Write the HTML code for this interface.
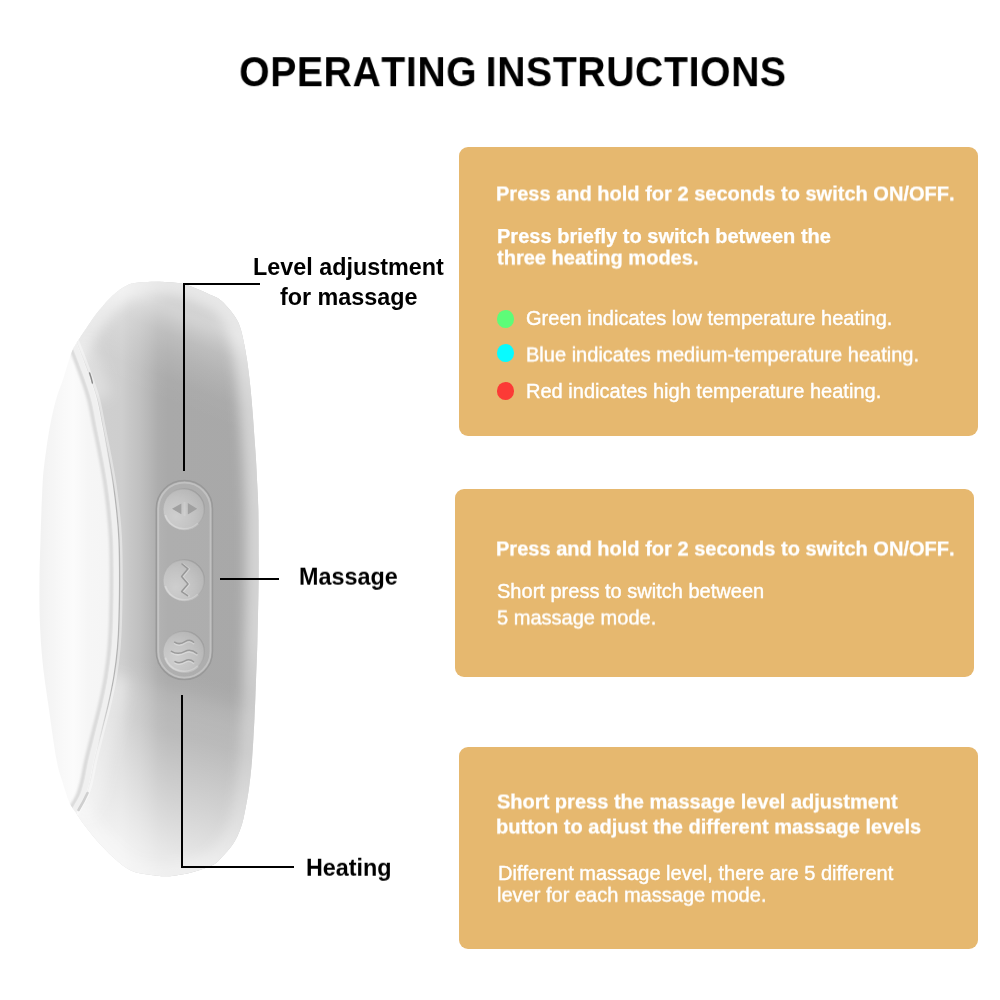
<!DOCTYPE html>
<html lang="en">
<head>
<meta charset="utf-8">
<title>Operating Instructions</title>
<style>
*{margin:0;padding:0;box-sizing:border-box}
html,body{width:1000px;height:1000px;background:#fff;overflow:hidden}
body{position:relative;font-family:"Liberation Sans",Arial,Helvetica,sans-serif;color:#000}
.abs{position:absolute;white-space:nowrap;line-height:1;will-change:transform;font-kerning:none;transform-origin:0 0}
h1{position:absolute;left:0;top:48px;width:1000px;text-align:center;font-size:42.5px;font-weight:700;line-height:50px;white-space:nowrap;letter-spacing:0.7px;word-spacing:-3.4px;font-kerning:none;will-change:transform;transform:translate(12.9px,-0.8px) scaleX(0.92) rotate(0.0001deg);transform-origin:50% 50%}
.box{position:absolute;background:#e6b86f;border-radius:9px}
.b{font-weight:700;color:#fff;font-size:20.05px;-webkit-text-stroke:0.25px #fff}
.r{font-weight:400;color:#fff;font-size:20.05px;-webkit-text-stroke:0.4px #fff}
.lab{font-weight:700;color:#000;font-size:23.35px}
.dot{position:absolute;width:17.8px;height:18px;border-radius:50%}
.ln{position:absolute;background:#000}
#device{position:absolute;left:0;top:0;width:1000px;height:1000px}
</style>
</head>
<body>
<h1 id="title">OPERATING INSTRUCTIONS</h1>

<svg id="device" viewBox="0 0 1000 1000" width="1000" height="1000">
<defs>
<linearGradient id="gH" gradientUnits="userSpaceOnUse" x1="75" y1="0" x2="260" y2="0">
<stop offset="0.000" stop-color="#d0d0d0"/>
<stop offset="0.162" stop-color="#cfcfcf"/>
<stop offset="0.254" stop-color="#cecece"/>
<stop offset="0.297" stop-color="#c7c7c7"/>
<stop offset="0.351" stop-color="#c0c0c0"/>
<stop offset="0.405" stop-color="#b6b6b6"/>
<stop offset="0.449" stop-color="#adadad"/>
<stop offset="0.503" stop-color="#a9a9a9"/>
<stop offset="1.000" stop-color="#a8a8a8"/>
</linearGradient>
<linearGradient id="gV" gradientUnits="userSpaceOnUse" x1="160" y1="282" x2="91.03" y2="454.41">
<stop offset="0.000" stop-color="#fff" stop-opacity="0.460"/>
<stop offset="0.060" stop-color="#fff" stop-opacity="0.470"/>
<stop offset="0.110" stop-color="#fff" stop-opacity="0.490"/>
<stop offset="0.140" stop-color="#fff" stop-opacity="0.450"/>
<stop offset="0.190" stop-color="#fff" stop-opacity="0.340"/>
<stop offset="0.240" stop-color="#fff" stop-opacity="0.240"/>
<stop offset="0.340" stop-color="#fff" stop-opacity="0.130"/>
<stop offset="0.465" stop-color="#fff" stop-opacity="0.030"/>
<stop offset="0.590" stop-color="#fff" stop-opacity="0.000"/>
<stop offset="1.000" stop-color="#fff" stop-opacity="0.000"/>
</linearGradient>
<linearGradient id="gD" gradientUnits="userSpaceOnUse" x1="216" y1="676" x2="156" y2="888">
<stop offset="0.000" stop-color="#fff" stop-opacity="0.000"/>
<stop offset="0.040" stop-color="#fff" stop-opacity="0.010"/>
<stop offset="0.090" stop-color="#fff" stop-opacity="0.050"/>
<stop offset="0.140" stop-color="#fff" stop-opacity="0.120"/>
<stop offset="0.200" stop-color="#fff" stop-opacity="0.170"/>
<stop offset="0.300" stop-color="#fff" stop-opacity="0.210"/>
<stop offset="0.450" stop-color="#fff" stop-opacity="0.350"/>
<stop offset="0.600" stop-color="#fff" stop-opacity="0.490"/>
<stop offset="0.840" stop-color="#fff" stop-opacity="0.730"/>
<stop offset="1.000" stop-color="#fff" stop-opacity="0.760"/>
</linearGradient>
<linearGradient id="gGlow" gradientUnits="userSpaceOnUse" x1="0" y1="282" x2="0" y2="876">
<stop offset="0.000" stop-color="#fff" stop-opacity="0.500"/>
<stop offset="0.600" stop-color="#fff" stop-opacity="0.500"/>
<stop offset="0.780" stop-color="#fff" stop-opacity="0.300"/>
<stop offset="1.000" stop-color="#fff" stop-opacity="0.300"/>
</linearGradient>
<linearGradient id="gRimL" gradientUnits="userSpaceOnUse" x1="0" y1="430" x2="0" y2="750"><stop offset="0" stop-color="#b4b4b4" stop-opacity="0"/><stop offset="0.2" stop-color="#b4b4b4" stop-opacity="1"/><stop offset="0.8" stop-color="#b4b4b4" stop-opacity="1"/><stop offset="1" stop-color="#b4b4b4" stop-opacity="0"/></linearGradient>
<linearGradient id="gF" gradientUnits="userSpaceOnUse" x1="40" y1="0" x2="120" y2="0">
<stop offset="0" stop-color="#f1f1f1"/>
<stop offset="0.10" stop-color="#f4f4f4"/>
<stop offset="0.30" stop-color="#f9f9f9"/>
<stop offset="0.42" stop-color="#fbfbfb"/>
<stop offset="0.60" stop-color="#f6f6f6"/>
<stop offset="1" stop-color="#f4f4f4"/>
</linearGradient>
<radialGradient id="gBtn" cx="0.3" cy="0.68" r="0.85">
<stop offset="0" stop-color="#fff" stop-opacity="0.40"/>
<stop offset="0.5" stop-color="#fff" stop-opacity="0.26"/>
<stop offset="1" stop-color="#fff" stop-opacity="0.06"/>
</radialGradient>
<linearGradient id="gRing" x1="0.1" y1="0.9" x2="0.9" y2="0.1">
<stop offset="0" stop-color="#fff" stop-opacity="0.25"/>
<stop offset="0.45" stop-color="#999" stop-opacity="0"/>
<stop offset="1" stop-color="#8c8c8c" stop-opacity="0.55"/>
</linearGradient>
<clipPath id="cS"><path d="M141.0,282.3C147.3,281.7 157.5,281.6 165.0,282.0C172.5,282.4 178.2,282.4 186.0,284.7C193.8,286.9 206.2,292.9 212.0,295.5C217.8,298.1 218.0,298.1 221.0,300.5C224.0,302.9 227.3,306.8 230.0,310.0C232.7,313.2 235.2,316.7 237.0,320.0C238.8,323.3 239.8,325.8 241.0,330.0C242.2,334.2 243.4,340.0 244.4,345.0C245.4,350.0 246.1,354.2 247.0,360.0C247.9,365.8 248.8,373.3 249.6,380.0C250.4,386.7 251.0,393.3 251.6,400.0C252.2,406.7 252.7,413.3 253.2,420.0C253.7,426.7 254.1,433.3 254.6,440.0C255.1,446.7 255.6,453.3 256.0,460.0C256.4,466.7 256.7,473.3 257.0,480.0C257.3,486.7 257.8,493.3 258.0,500.0C258.2,506.7 258.4,506.7 258.5,520.0C258.6,533.3 258.8,560.0 258.6,580.0C258.4,600.0 257.8,623.3 257.4,640.0C257.0,656.7 256.5,666.7 256.0,680.0C255.5,693.3 255.1,706.7 254.4,720.0C253.7,733.3 252.9,748.7 252.0,760.0C251.1,771.3 250.3,778.7 249.0,788.0C247.7,797.3 245.5,809.0 244.0,816.0C242.5,823.0 241.8,825.3 240.0,830.0C238.2,834.7 236.2,839.3 233.0,844.0C229.8,848.7 224.4,854.5 221.0,858.0C217.6,861.5 217.3,862.7 212.6,865.0C207.9,867.3 200.1,870.1 193.0,872.0C185.9,873.9 177.3,875.7 170.0,876.2C162.7,876.7 155.5,875.7 149.0,874.8C142.5,873.9 136.6,873.4 130.8,870.6C125.0,867.8 119.1,862.4 114.0,858.0C108.9,853.6 104.7,849.1 100.0,844.0C95.3,838.9 90.0,832.3 86.0,827.2C82.0,822.1 79.0,817.4 76.2,813.2C73.4,809.0 71.5,807.4 69.2,802.0C66.9,796.6 64.3,788.0 62.2,781.0C60.1,774.0 58.9,772.8 56.6,760.0C54.3,747.2 50.5,720.3 48.2,704.0C45.9,687.7 44.0,676.0 42.6,662.0C41.2,648.0 40.3,633.7 39.8,620.0C39.3,606.3 39.4,593.3 39.5,580.0C39.6,566.7 40.0,556.0 40.5,540.0C41.0,524.0 41.8,498.0 42.6,484.0C43.4,470.0 44.2,465.3 45.4,456.0C46.6,446.7 47.9,437.3 49.6,428.0C51.4,418.7 53.5,408.5 55.9,400.0C58.3,391.5 61.3,384.7 63.8,377.0C66.3,369.3 68.9,359.7 71.0,354.0C73.1,348.3 73.8,347.5 76.6,342.8C79.4,338.1 84.1,331.4 87.8,326.0C91.5,320.6 94.8,315.7 99.0,310.6C103.2,305.5 108.3,299.4 113.0,295.2C117.7,291.0 122.3,287.5 127.0,285.4C131.7,283.2 134.7,282.9 141.0,282.3Z"/></clipPath>
<clipPath id="cB"><path d="M76.6,342.8C78.5,340.0 84.1,331.4 87.8,326.0C91.5,320.6 94.8,315.7 99.0,310.6C103.2,305.5 108.3,299.4 113.0,295.2C117.7,291.0 122.3,287.5 127.0,285.4C131.7,283.2 134.7,282.9 141.0,282.3C147.3,281.7 157.5,281.6 165.0,282.0C172.5,282.4 178.2,282.4 186.0,284.7C193.8,286.9 206.2,292.9 212.0,295.5C217.8,298.1 218.0,298.1 221.0,300.5C224.0,302.9 227.3,306.8 230.0,310.0C232.7,313.2 235.2,316.7 237.0,320.0C238.8,323.3 239.8,325.8 241.0,330.0C242.2,334.2 243.4,340.0 244.4,345.0C245.4,350.0 246.1,354.2 247.0,360.0C247.9,365.8 248.8,373.3 249.6,380.0C250.4,386.7 251.0,393.3 251.6,400.0C252.2,406.7 252.7,413.3 253.2,420.0C253.7,426.7 254.1,433.3 254.6,440.0C255.1,446.7 255.6,453.3 256.0,460.0C256.4,466.7 256.7,473.3 257.0,480.0C257.3,486.7 257.8,493.3 258.0,500.0C258.2,506.7 258.4,506.7 258.5,520.0C258.6,533.3 258.8,560.0 258.6,580.0C258.4,600.0 257.8,623.3 257.4,640.0C257.0,656.7 256.5,666.7 256.0,680.0C255.5,693.3 255.1,706.7 254.4,720.0C253.7,733.3 252.9,748.7 252.0,760.0C251.1,771.3 250.3,778.7 249.0,788.0C247.7,797.3 245.5,809.0 244.0,816.0C242.5,823.0 241.8,825.3 240.0,830.0C238.2,834.7 236.2,839.3 233.0,844.0C229.8,848.7 224.4,854.5 221.0,858.0C217.6,861.5 217.3,862.7 212.6,865.0C207.9,867.3 200.1,870.1 193.0,872.0C185.9,873.9 177.3,875.7 170.0,876.2C162.7,876.7 155.5,875.7 149.0,874.8C142.5,873.9 136.6,873.4 130.8,870.6C125.0,867.8 119.1,862.4 114.0,858.0C108.9,853.6 104.7,849.1 100.0,844.0C95.3,838.9 90.0,832.3 86.0,827.2C82.0,822.1 77.8,815.5 76.2,813.2C76.7,812.3 77.4,810.6 79.0,807.6C80.6,804.6 84.1,799.4 86.0,795.0C87.9,790.6 88.8,786.8 90.2,781.0C91.6,775.2 92.5,768.2 94.4,760.0C96.3,751.8 99.1,741.3 101.4,732.0C103.7,722.7 106.3,713.3 108.4,704.0C110.5,694.7 112.5,685.3 114.0,676.0C115.5,666.7 116.7,657.3 117.5,648.0C118.3,638.7 118.7,631.3 119.0,620.0C119.3,608.7 119.6,593.3 119.6,580.0C119.6,566.7 119.5,551.3 119.0,540.0C118.5,528.7 117.8,521.3 116.8,512.0C115.8,502.7 114.7,493.3 113.3,484.0C111.9,474.7 110.2,465.3 108.4,456.0C106.7,446.7 104.7,437.3 102.8,428.0C100.9,418.7 99.4,408.5 97.2,400.0C95.0,391.5 93.1,386.2 89.8,377.0C86.5,367.8 79.5,349.9 77.5,344.5Z"/></clipPath>
<filter id="b0" x="-20%" y="-20%" width="140%" height="140%"><feGaussianBlur stdDeviation="0.45"/></filter>
<filter id="b1" x="-20%" y="-20%" width="140%" height="140%"><feGaussianBlur stdDeviation="0.6"/></filter>
<filter id="b2" x="-50%" y="-5%" width="200%" height="110%"><feGaussianBlur stdDeviation="1.2"/></filter>
<filter id="b6" x="-30%" y="-15%" width="160%" height="130%"><feGaussianBlur stdDeviation="6"/></filter>
<filter id="b7" x="-150%" y="-30%" width="400%" height="160%"><feGaussianBlur stdDeviation="7"/></filter>
</defs>
<g filter="url(#b1)">
<path d="M76.2,813.2C75.0,811.3 71.5,807.4 69.2,802.0C66.9,796.6 64.3,788.0 62.2,781.0C60.1,774.0 58.9,772.8 56.6,760.0C54.3,747.2 50.5,720.3 48.2,704.0C45.9,687.7 44.0,676.0 42.6,662.0C41.2,648.0 40.3,633.7 39.8,620.0C39.3,606.3 39.4,593.3 39.5,580.0C39.6,566.7 40.0,556.0 40.5,540.0C41.0,524.0 41.8,498.0 42.6,484.0C43.4,470.0 44.2,465.3 45.4,456.0C46.6,446.7 47.9,437.3 49.6,428.0C51.4,418.7 53.5,408.5 55.9,400.0C58.3,391.5 61.3,384.7 63.8,377.0C66.3,369.3 68.9,359.7 71.0,354.0C73.1,348.3 75.7,344.7 76.6,342.8L77.5,344.5C79.5,349.9 86.5,367.8 89.8,377.0C93.1,386.2 95.0,391.5 97.2,400.0C99.4,408.5 100.9,418.7 102.8,428.0C104.7,437.3 106.7,446.7 108.4,456.0C110.2,465.3 111.9,474.7 113.3,484.0C114.7,493.3 115.8,502.7 116.8,512.0C117.8,521.3 118.5,528.7 119.0,540.0C119.5,551.3 119.6,566.7 119.6,580.0C119.6,593.3 119.3,608.7 119.0,620.0C118.7,631.3 118.3,638.7 117.5,648.0C116.7,657.3 115.5,666.7 114.0,676.0C112.5,685.3 110.5,694.7 108.4,704.0C106.3,713.3 103.7,722.7 101.4,732.0C99.1,741.3 96.3,751.8 94.4,760.0C92.5,768.2 91.6,775.2 90.2,781.0C88.8,786.8 87.9,790.6 86.0,795.0C84.1,799.4 80.6,804.6 79.0,807.6C77.4,810.6 76.7,812.3 76.2,813.2Z" fill="url(#gF)"/>
<path d="M76.6,342.8C78.5,340.0 84.1,331.4 87.8,326.0C91.5,320.6 94.8,315.7 99.0,310.6C103.2,305.5 108.3,299.4 113.0,295.2C117.7,291.0 122.3,287.5 127.0,285.4C131.7,283.2 134.7,282.9 141.0,282.3C147.3,281.7 157.5,281.6 165.0,282.0C172.5,282.4 178.2,282.4 186.0,284.7C193.8,286.9 206.2,292.9 212.0,295.5C217.8,298.1 218.0,298.1 221.0,300.5C224.0,302.9 227.3,306.8 230.0,310.0C232.7,313.2 235.2,316.7 237.0,320.0C238.8,323.3 239.8,325.8 241.0,330.0C242.2,334.2 243.4,340.0 244.4,345.0C245.4,350.0 246.1,354.2 247.0,360.0C247.9,365.8 248.8,373.3 249.6,380.0C250.4,386.7 251.0,393.3 251.6,400.0C252.2,406.7 252.7,413.3 253.2,420.0C253.7,426.7 254.1,433.3 254.6,440.0C255.1,446.7 255.6,453.3 256.0,460.0C256.4,466.7 256.7,473.3 257.0,480.0C257.3,486.7 257.8,493.3 258.0,500.0C258.2,506.7 258.4,506.7 258.5,520.0C258.6,533.3 258.8,560.0 258.6,580.0C258.4,600.0 257.8,623.3 257.4,640.0C257.0,656.7 256.5,666.7 256.0,680.0C255.5,693.3 255.1,706.7 254.4,720.0C253.7,733.3 252.9,748.7 252.0,760.0C251.1,771.3 250.3,778.7 249.0,788.0C247.7,797.3 245.5,809.0 244.0,816.0C242.5,823.0 241.8,825.3 240.0,830.0C238.2,834.7 236.2,839.3 233.0,844.0C229.8,848.7 224.4,854.5 221.0,858.0C217.6,861.5 217.3,862.7 212.6,865.0C207.9,867.3 200.1,870.1 193.0,872.0C185.9,873.9 177.3,875.7 170.0,876.2C162.7,876.7 155.5,875.7 149.0,874.8C142.5,873.9 136.6,873.4 130.8,870.6C125.0,867.8 119.1,862.4 114.0,858.0C108.9,853.6 104.7,849.1 100.0,844.0C95.3,838.9 90.0,832.3 86.0,827.2C82.0,822.1 77.8,815.5 76.2,813.2C76.7,812.3 77.4,810.6 79.0,807.6C80.6,804.6 84.1,799.4 86.0,795.0C87.9,790.6 88.8,786.8 90.2,781.0C91.6,775.2 92.5,768.2 94.4,760.0C96.3,751.8 99.1,741.3 101.4,732.0C103.7,722.7 106.3,713.3 108.4,704.0C110.5,694.7 112.5,685.3 114.0,676.0C115.5,666.7 116.7,657.3 117.5,648.0C118.3,638.7 118.7,631.3 119.0,620.0C119.3,608.7 119.6,593.3 119.6,580.0C119.6,566.7 119.5,551.3 119.0,540.0C118.5,528.7 117.8,521.3 116.8,512.0C115.8,502.7 114.7,493.3 113.3,484.0C111.9,474.7 110.2,465.3 108.4,456.0C106.7,446.7 104.7,437.3 102.8,428.0C100.9,418.7 99.4,408.5 97.2,400.0C95.0,391.5 93.1,386.2 89.8,377.0C86.5,367.8 79.5,349.9 77.5,344.5Z" fill="url(#gH)"/>
<path d="M76.6,342.8C78.5,340.0 84.1,331.4 87.8,326.0C91.5,320.6 94.8,315.7 99.0,310.6C103.2,305.5 108.3,299.4 113.0,295.2C117.7,291.0 122.3,287.5 127.0,285.4C131.7,283.2 134.7,282.9 141.0,282.3C147.3,281.7 157.5,281.6 165.0,282.0C172.5,282.4 178.2,282.4 186.0,284.7C193.8,286.9 206.2,292.9 212.0,295.5C217.8,298.1 218.0,298.1 221.0,300.5C224.0,302.9 227.3,306.8 230.0,310.0C232.7,313.2 235.2,316.7 237.0,320.0C238.8,323.3 239.8,325.8 241.0,330.0C242.2,334.2 243.4,340.0 244.4,345.0C245.4,350.0 246.1,354.2 247.0,360.0C247.9,365.8 248.8,373.3 249.6,380.0C250.4,386.7 251.0,393.3 251.6,400.0C252.2,406.7 252.7,413.3 253.2,420.0C253.7,426.7 254.1,433.3 254.6,440.0C255.1,446.7 255.6,453.3 256.0,460.0C256.4,466.7 256.7,473.3 257.0,480.0C257.3,486.7 257.8,493.3 258.0,500.0C258.2,506.7 258.4,506.7 258.5,520.0C258.6,533.3 258.8,560.0 258.6,580.0C258.4,600.0 257.8,623.3 257.4,640.0C257.0,656.7 256.5,666.7 256.0,680.0C255.5,693.3 255.1,706.7 254.4,720.0C253.7,733.3 252.9,748.7 252.0,760.0C251.1,771.3 250.3,778.7 249.0,788.0C247.7,797.3 245.5,809.0 244.0,816.0C242.5,823.0 241.8,825.3 240.0,830.0C238.2,834.7 236.2,839.3 233.0,844.0C229.8,848.7 224.4,854.5 221.0,858.0C217.6,861.5 217.3,862.7 212.6,865.0C207.9,867.3 200.1,870.1 193.0,872.0C185.9,873.9 177.3,875.7 170.0,876.2C162.7,876.7 155.5,875.7 149.0,874.8C142.5,873.9 136.6,873.4 130.8,870.6C125.0,867.8 119.1,862.4 114.0,858.0C108.9,853.6 104.7,849.1 100.0,844.0C95.3,838.9 90.0,832.3 86.0,827.2C82.0,822.1 77.8,815.5 76.2,813.2C76.7,812.3 77.4,810.6 79.0,807.6C80.6,804.6 84.1,799.4 86.0,795.0C87.9,790.6 88.8,786.8 90.2,781.0C91.6,775.2 92.5,768.2 94.4,760.0C96.3,751.8 99.1,741.3 101.4,732.0C103.7,722.7 106.3,713.3 108.4,704.0C110.5,694.7 112.5,685.3 114.0,676.0C115.5,666.7 116.7,657.3 117.5,648.0C118.3,638.7 118.7,631.3 119.0,620.0C119.3,608.7 119.6,593.3 119.6,580.0C119.6,566.7 119.5,551.3 119.0,540.0C118.5,528.7 117.8,521.3 116.8,512.0C115.8,502.7 114.7,493.3 113.3,484.0C111.9,474.7 110.2,465.3 108.4,456.0C106.7,446.7 104.7,437.3 102.8,428.0C100.9,418.7 99.4,408.5 97.2,400.0C95.0,391.5 93.1,386.2 89.8,377.0C86.5,367.8 79.5,349.9 77.5,344.5Z" fill="url(#gV)"/>
<path d="M76.6,342.8C78.5,340.0 84.1,331.4 87.8,326.0C91.5,320.6 94.8,315.7 99.0,310.6C103.2,305.5 108.3,299.4 113.0,295.2C117.7,291.0 122.3,287.5 127.0,285.4C131.7,283.2 134.7,282.9 141.0,282.3C147.3,281.7 157.5,281.6 165.0,282.0C172.5,282.4 178.2,282.4 186.0,284.7C193.8,286.9 206.2,292.9 212.0,295.5C217.8,298.1 218.0,298.1 221.0,300.5C224.0,302.9 227.3,306.8 230.0,310.0C232.7,313.2 235.2,316.7 237.0,320.0C238.8,323.3 239.8,325.8 241.0,330.0C242.2,334.2 243.4,340.0 244.4,345.0C245.4,350.0 246.1,354.2 247.0,360.0C247.9,365.8 248.8,373.3 249.6,380.0C250.4,386.7 251.0,393.3 251.6,400.0C252.2,406.7 252.7,413.3 253.2,420.0C253.7,426.7 254.1,433.3 254.6,440.0C255.1,446.7 255.6,453.3 256.0,460.0C256.4,466.7 256.7,473.3 257.0,480.0C257.3,486.7 257.8,493.3 258.0,500.0C258.2,506.7 258.4,506.7 258.5,520.0C258.6,533.3 258.8,560.0 258.6,580.0C258.4,600.0 257.8,623.3 257.4,640.0C257.0,656.7 256.5,666.7 256.0,680.0C255.5,693.3 255.1,706.7 254.4,720.0C253.7,733.3 252.9,748.7 252.0,760.0C251.1,771.3 250.3,778.7 249.0,788.0C247.7,797.3 245.5,809.0 244.0,816.0C242.5,823.0 241.8,825.3 240.0,830.0C238.2,834.7 236.2,839.3 233.0,844.0C229.8,848.7 224.4,854.5 221.0,858.0C217.6,861.5 217.3,862.7 212.6,865.0C207.9,867.3 200.1,870.1 193.0,872.0C185.9,873.9 177.3,875.7 170.0,876.2C162.7,876.7 155.5,875.7 149.0,874.8C142.5,873.9 136.6,873.4 130.8,870.6C125.0,867.8 119.1,862.4 114.0,858.0C108.9,853.6 104.7,849.1 100.0,844.0C95.3,838.9 90.0,832.3 86.0,827.2C82.0,822.1 77.8,815.5 76.2,813.2C76.7,812.3 77.4,810.6 79.0,807.6C80.6,804.6 84.1,799.4 86.0,795.0C87.9,790.6 88.8,786.8 90.2,781.0C91.6,775.2 92.5,768.2 94.4,760.0C96.3,751.8 99.1,741.3 101.4,732.0C103.7,722.7 106.3,713.3 108.4,704.0C110.5,694.7 112.5,685.3 114.0,676.0C115.5,666.7 116.7,657.3 117.5,648.0C118.3,638.7 118.7,631.3 119.0,620.0C119.3,608.7 119.6,593.3 119.6,580.0C119.6,566.7 119.5,551.3 119.0,540.0C118.5,528.7 117.8,521.3 116.8,512.0C115.8,502.7 114.7,493.3 113.3,484.0C111.9,474.7 110.2,465.3 108.4,456.0C106.7,446.7 104.7,437.3 102.8,428.0C100.9,418.7 99.4,408.5 97.2,400.0C95.0,391.5 93.1,386.2 89.8,377.0C86.5,367.8 79.5,349.9 77.5,344.5Z" fill="url(#gD)"/>
<g clip-path="url(#cB)">
<path d="M141.0,282.3C147.3,281.7 157.5,281.6 165.0,282.0C172.5,282.4 178.2,282.4 186.0,284.7C193.8,286.9 206.2,292.9 212.0,295.5C217.8,298.1 218.0,298.1 221.0,300.5C224.0,302.9 227.3,306.8 230.0,310.0C232.7,313.2 235.2,316.7 237.0,320.0C238.8,323.3 239.8,325.8 241.0,330.0C242.2,334.2 243.4,340.0 244.4,345.0C245.4,350.0 246.1,354.2 247.0,360.0C247.9,365.8 248.8,373.3 249.6,380.0C250.4,386.7 251.0,393.3 251.6,400.0C252.2,406.7 252.7,413.3 253.2,420.0C253.7,426.7 254.1,433.3 254.6,440.0C255.1,446.7 255.6,453.3 256.0,460.0C256.4,466.7 256.7,473.3 257.0,480.0C257.3,486.7 257.8,493.3 258.0,500.0C258.2,506.7 258.4,506.7 258.5,520.0C258.6,533.3 258.8,560.0 258.6,580.0C258.4,600.0 257.8,623.3 257.4,640.0C257.0,656.7 256.5,666.7 256.0,680.0C255.5,693.3 255.1,706.7 254.4,720.0C253.7,733.3 252.9,748.7 252.0,760.0C251.1,771.3 250.3,778.7 249.0,788.0C247.7,797.3 245.5,809.0 244.0,816.0C242.5,823.0 241.8,825.3 240.0,830.0C238.2,834.7 236.2,839.3 233.0,844.0C229.8,848.7 224.4,854.5 221.0,858.0C217.6,861.5 217.3,862.7 212.6,865.0C207.9,867.3 200.1,870.1 193.0,872.0C185.9,873.9 177.3,875.7 170.0,876.2C162.7,876.7 155.5,875.7 149.0,874.8C142.5,873.9 136.6,873.4 130.8,870.6C125.0,867.8 119.1,862.4 114.0,858.0C108.9,853.6 104.7,849.1 100.0,844.0C95.3,838.9 90.0,832.3 86.0,827.2C82.0,822.1 79.0,817.4 76.2,813.2C73.4,809.0 71.5,807.4 69.2,802.0C66.9,796.6 64.3,788.0 62.2,781.0C60.1,774.0 58.9,772.8 56.6,760.0C54.3,747.2 50.5,720.3 48.2,704.0C45.9,687.7 44.0,676.0 42.6,662.0C41.2,648.0 40.3,633.7 39.8,620.0C39.3,606.3 39.4,593.3 39.5,580.0C39.6,566.7 40.0,556.0 40.5,540.0C41.0,524.0 41.8,498.0 42.6,484.0C43.4,470.0 44.2,465.3 45.4,456.0C46.6,446.7 47.9,437.3 49.6,428.0C51.4,418.7 53.5,408.5 55.9,400.0C58.3,391.5 61.3,384.7 63.8,377.0C66.3,369.3 68.9,359.7 71.0,354.0C73.1,348.3 73.8,347.5 76.6,342.8C79.4,338.1 84.1,331.4 87.8,326.0C91.5,320.6 94.8,315.7 99.0,310.6C103.2,305.5 108.3,299.4 113.0,295.2C117.7,291.0 122.3,287.5 127.0,285.4C131.7,283.2 134.7,282.9 141.0,282.3Z" fill="none" stroke="url(#gGlow)" stroke-width="26" filter="url(#b6)"/>
<path d="M77.5,344.5C79.5,349.9 86.5,367.8 89.8,377.0C93.1,386.2 96.0,396.2 97.2,400.0" fill="none" stroke="#fff" stroke-opacity="0.3" stroke-width="30" filter="url(#b7)"/>
<path d="M114.0,676.0C113.1,680.7 110.5,694.7 108.4,704.0C106.3,713.3 103.7,722.7 101.4,732.0C99.1,741.3 96.3,751.8 94.4,760.0C92.5,768.2 91.6,775.2 90.2,781.0C88.8,786.8 87.9,790.6 86.0,795.0C84.1,799.4 80.6,804.6 79.0,807.6C77.4,810.6 76.7,812.3 76.2,813.2" fill="none" stroke="#fff" stroke-opacity="0.34" stroke-width="30" filter="url(#b7)"/>
</g>
<g clip-path="url(#cS)" fill="none">
<path d="M66.0,318.0C67.9,322.4 73.5,334.7 77.5,344.5C81.5,354.3 86.5,367.8 89.8,377.0C93.1,386.2 95.0,391.5 97.2,400.0C99.4,408.5 100.9,418.7 102.8,428.0C104.7,437.3 106.7,446.7 108.4,456.0C110.2,465.3 111.9,474.7 113.3,484.0C114.7,493.3 115.8,502.7 116.8,512.0C117.8,521.3 118.5,528.7 119.0,540.0C119.5,551.3 119.6,566.7 119.6,580.0C119.6,593.3 119.3,608.7 119.0,620.0C118.7,631.3 118.3,638.7 117.5,648.0C116.7,657.3 115.5,666.7 114.0,676.0C112.5,685.3 110.5,694.7 108.4,704.0C106.3,713.3 103.7,722.7 101.4,732.0C99.1,741.3 96.3,751.8 94.4,760.0C92.5,768.2 91.6,775.2 90.2,781.0C88.8,786.8 87.9,790.6 86.0,795.0C84.1,799.4 80.6,804.6 79.0,807.6C77.4,810.6 78.0,810.1 76.2,813.2C74.4,816.3 69.4,823.9 68.0,826.0" transform="translate(-8,0)" stroke="#d9d9d9" stroke-width="4" filter="url(#b2)"/>
<path d="M66.0,318.0C67.9,322.4 73.5,334.7 77.5,344.5C81.5,354.3 86.5,367.8 89.8,377.0C93.1,386.2 95.0,391.5 97.2,400.0C99.4,408.5 100.9,418.7 102.8,428.0C104.7,437.3 106.7,446.7 108.4,456.0C110.2,465.3 111.9,474.7 113.3,484.0C114.7,493.3 115.8,502.7 116.8,512.0C117.8,521.3 118.5,528.7 119.0,540.0C119.5,551.3 119.6,566.7 119.6,580.0C119.6,593.3 119.3,608.7 119.0,620.0C118.7,631.3 118.3,638.7 117.5,648.0C116.7,657.3 115.5,666.7 114.0,676.0C112.5,685.3 110.5,694.7 108.4,704.0C106.3,713.3 103.7,722.7 101.4,732.0C99.1,741.3 96.3,751.8 94.4,760.0C92.5,768.2 91.6,775.2 90.2,781.0C88.8,786.8 87.9,790.6 86.0,795.0C84.1,799.4 80.6,804.6 79.0,807.6C77.4,810.6 78.0,810.1 76.2,813.2C74.4,816.3 69.4,823.9 68.0,826.0" transform="translate(-3.2,0)" stroke="#f0f0f0" stroke-width="5"/>
<path d="M66.0,318.0C67.9,322.4 73.5,334.7 77.5,344.5C81.5,354.3 86.5,367.8 89.8,377.0C93.1,386.2 95.0,391.5 97.2,400.0C99.4,408.5 100.9,418.7 102.8,428.0C104.7,437.3 106.7,446.7 108.4,456.0C110.2,465.3 111.9,474.7 113.3,484.0C114.7,493.3 115.8,502.7 116.8,512.0C117.8,521.3 118.5,528.7 119.0,540.0C119.5,551.3 119.6,566.7 119.6,580.0C119.6,593.3 119.3,608.7 119.0,620.0C118.7,631.3 118.3,638.7 117.5,648.0C116.7,657.3 115.5,666.7 114.0,676.0C112.5,685.3 110.5,694.7 108.4,704.0C106.3,713.3 103.7,722.7 101.4,732.0C99.1,741.3 96.3,751.8 94.4,760.0C92.5,768.2 91.6,775.2 90.2,781.0C88.8,786.8 87.9,790.6 86.0,795.0C84.1,799.4 80.6,804.6 79.0,807.6C77.4,810.6 78.0,810.1 76.2,813.2C74.4,816.3 69.4,823.9 68.0,826.0" stroke="url(#gRimL)" stroke-width="1.3"/>
<path d="M66.0,318.0C67.9,322.4 73.5,334.7 77.5,344.5C81.5,354.3 86.5,367.8 89.8,377.0C93.1,386.2 95.0,391.5 97.2,400.0C99.4,408.5 100.9,418.7 102.8,428.0C104.7,437.3 106.7,446.7 108.4,456.0C110.2,465.3 111.9,474.7 113.3,484.0C114.7,493.3 115.8,502.7 116.8,512.0C117.8,521.3 118.5,528.7 119.0,540.0C119.5,551.3 119.6,566.7 119.6,580.0C119.6,593.3 119.3,608.7 119.0,620.0C118.7,631.3 118.3,638.7 117.5,648.0C116.7,657.3 115.5,666.7 114.0,676.0C112.5,685.3 110.5,694.7 108.4,704.0C106.3,713.3 103.7,722.7 101.4,732.0C99.1,741.3 96.3,751.8 94.4,760.0C92.5,768.2 91.6,775.2 90.2,781.0C88.8,786.8 87.9,790.6 86.0,795.0C84.1,799.4 80.6,804.6 79.0,807.6C77.4,810.6 78.0,810.1 76.2,813.2C74.4,816.3 69.4,823.9 68.0,826.0" transform="translate(1.9,0)" stroke="#fff" stroke-opacity="0.4" stroke-width="2.4"/>
<path d="M89.6,373Q91.2,377.5 92.4,383" stroke="#8a8a8a" stroke-width="1.4" stroke-linecap="round" filter="url(#b0)"/>
<path d="M87.5,793Q83.5,802 78.5,810" stroke="#cfcfcf" stroke-width="2.6" stroke-linecap="round" filter="url(#b0)"/>
</g>
</g>
<g id="panel" filter="url(#b0)">
<rect x="156.3" y="480.6" width="56.2" height="199" rx="28.1" fill="#fff" fill-opacity="0.06" stroke="#999" stroke-width="1.5"/>
<rect x="158.3" y="482.6" width="52.2" height="195" rx="26.1" fill="none" stroke="#fff" stroke-opacity="0.24" stroke-width="1.8"/>
<circle cx="184" cy="509" r="20.3" fill="url(#gBtn)"/>
<circle cx="184" cy="509" r="20.3" fill="none" stroke="url(#gRing)" stroke-width="1.4"/>
<path d="M165.2,515.0A20,20 0 0 0 198,523.5" fill="none" stroke="#fff" stroke-opacity="0.22" stroke-width="2.2"/>
<circle cx="184" cy="580" r="20.3" fill="url(#gBtn)"/>
<circle cx="184" cy="580" r="20.3" fill="none" stroke="url(#gRing)" stroke-width="1.4"/>
<path d="M165.2,586.0A20,20 0 0 0 198,594.5" fill="none" stroke="#fff" stroke-opacity="0.22" stroke-width="2.2"/>
<circle cx="184" cy="651.6" r="20.3" fill="url(#gBtn)"/>
<circle cx="184" cy="651.6" r="20.3" fill="none" stroke="url(#gRing)" stroke-width="1.4"/>
<path d="M165.2,657.6A20,20 0 0 0 198,666.1" fill="none" stroke="#fff" stroke-opacity="0.22" stroke-width="2.2"/>
<g fill="#a0a0a0">
<path d="M172,508.8L181.4,503.6V514.2Z"/>
<path d="M197.2,508.8L187.8,503V514.6Z"/>
</g>
<rect x="183.6" y="502" width="2" height="14" fill="#fff" fill-opacity="0.12"/>
<g fill="none" stroke-linecap="round" stroke-linejoin="round">
<path d="M182,564L188,568.8L181.6,576.4L188,584L181.6,591.6L187.6,595.6" stroke="#fff" stroke-opacity="0.28" stroke-width="1.6" transform="translate(1.4,0.3)"/>
<path d="M182,564L188,568.8L181.6,576.4L188,584L181.6,591.6L187.6,595.6" stroke="#989898" stroke-width="1.5"/>
<g stroke="#fff" stroke-opacity="0.28" stroke-width="1.6" transform="translate(0,1.5)">
<path d="M174.6,642.2C178,644.4 182,643.6 185,641.6C188,639.8 191,639.8 193.6,642.2"/>
<path d="M171.4,651.4C176,654.2 181,653.6 185,651.4C189,649.4 193,650.4 196.8,653.4"/>
<path d="M175,661.6C178,663.4 182,662.6 185,660.8C188,659 191,659.4 193.6,661.8"/>
</g>
<g stroke="#9a9a9a" stroke-width="1.5">
<path d="M174.6,642.2C178,644.4 182,643.6 185,641.6C188,639.8 191,639.8 193.6,642.2"/>
<path d="M171.4,651.4C176,654.2 181,653.6 185,651.4C189,649.4 193,650.4 196.8,653.4"/>
<path d="M175,661.6C178,663.4 182,662.6 185,660.8C188,659 191,659.4 193.6,661.8"/>
</g>
</g>
</g>
</svg>

<div class="ln" style="left:183px;top:283px;width:77px;height:2.3px"></div>
<div class="ln" style="left:183px;top:283px;width:2.2px;height:188px"></div>
<div class="ln" style="left:220px;top:577.8px;width:59px;height:2.3px"></div>
<div class="ln" style="left:181px;top:694.5px;width:2.2px;height:173px"></div>
<div class="ln" style="left:181px;top:865.5px;width:113px;height:2.2px"></div>

<div class="box" style="left:459px;top:147px;width:519px;height:288.5px"></div>
<div class="box" style="left:455px;top:489px;width:519px;height:187.5px"></div>
<div class="box" style="left:459px;top:747px;width:519px;height:202px"></div>

<div class="dot" style="left:496.5px;top:309.7px;background:#5efc78"></div>
<div class="dot" style="left:496.5px;top:344.2px;background:#08fbff"></div>
<div class="dot" style="left:496.5px;top:382.2px;background:#fc3a36"></div>

<div class="abs b" id="t1" style="left:496px;top:183px;transform:translate(0px,0.5px) rotate(0.0001deg)">Press and hold for 2 seconds to switch ON/OFF.</div>
<div class="abs b" id="t2" style="left:497px;top:226px">Press briefly to switch between the</div>
<div class="abs b" id="t3" style="left:497px;top:247px;transform:translate(0px,0.5px) rotate(0.0001deg)">three heating modes.</div>
<div class="abs r" id="t4" style="left:526px;top:308px">Green indicates low temperature heating.</div>
<div class="abs r" id="t5" style="left:526px;top:344px;transform:translate(0px,0.5px) rotate(0.0001deg)">Blue indicates medium-temperature heating.</div>
<div class="abs r" id="t6" style="left:526px;top:381px">Red indicates high temperature heating.</div>
<div class="abs b" id="t7" style="left:496px;top:538px;transform:translate(0px,0.5px) rotate(0.0001deg)">Press and hold for 2 seconds to switch ON/OFF.</div>
<div class="abs r" id="t8" style="left:497px;top:581px">Short press to switch between</div>
<div class="abs r" id="t9" style="left:497px;top:607px;transform:translate(0px,0.5px) rotate(0.0001deg)">5 massage mode.</div>
<div class="abs b" id="t10" style="left:497px;top:791px;transform:translate(0px,0.5px) rotate(0.0001deg)">Short press the massage level adjustment</div>
<div class="abs b" id="t11" style="left:496px;top:816px;transform:translate(0px,0.5px) rotate(0.0001deg)">button to adjust the different massage levels</div>
<div class="abs r" id="t12" style="left:498px;top:863px">Different massage level, there are 5 different</div>
<div class="abs r" id="t13" style="left:497px;top:884px;transform:translate(0px,0.75px) rotate(0.0001deg)">lever for each massage mode.</div>
<div class="abs lab" id="l1" style="left:253px;top:256px">Level adjustment</div>
<div class="abs lab" id="l2" style="left:280px;top:286px">for massage</div>
<div class="abs lab" id="l3" style="left:299px;top:565px;transform:translate(0px,0.7px) rotate(0.0001deg)">Massage</div>
<div class="abs lab" id="l4" style="left:306px;top:856px;transform:translate(0px,0.75px) rotate(0.0001deg)">Heating</div>
</body>
</html>
